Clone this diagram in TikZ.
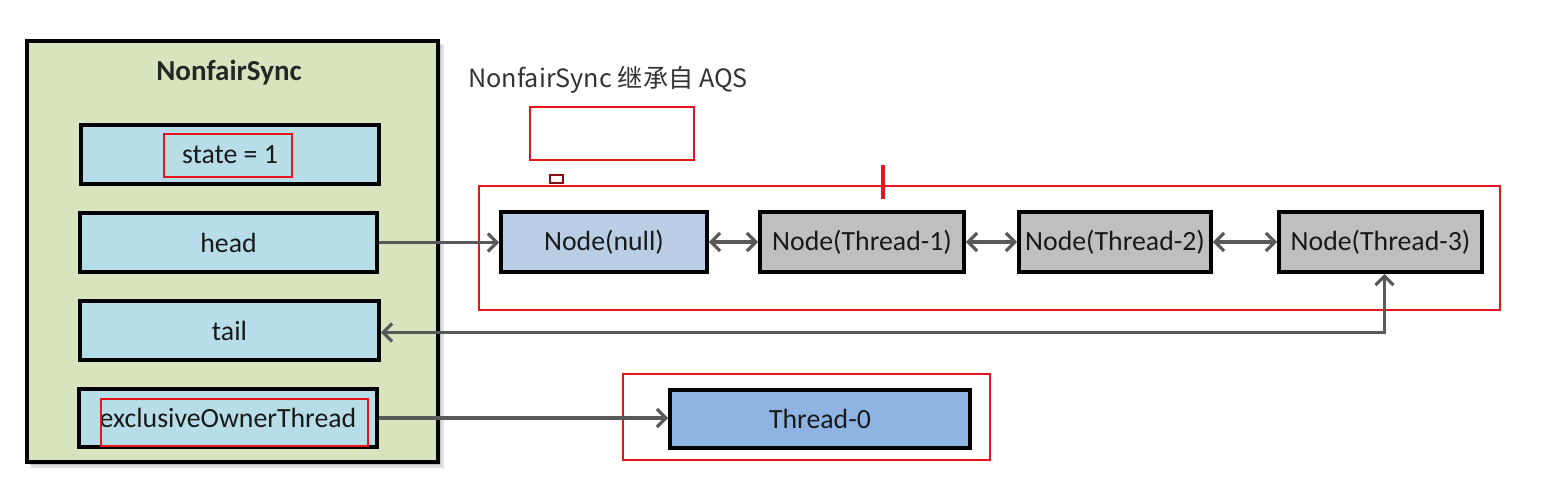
\documentclass[tikz,border=0pt]{standalone}
\usepackage{fontspec}
\setmainfont{Carlito}
\newfontfamily\cjk{Noto Sans CJK SC}
\usetikzlibrary{fit,arrows.meta}
\definecolor{syncgreen}{HTML}{D7E4BD}
\definecolor{fieldblue}{HTML}{B7DEE8}
\definecolor{nullblue}{HTML}{B9CDE5}
\definecolor{nodegray}{HTML}{BFBFBF}
\definecolor{threadblue}{HTML}{8EB4E3}
\definecolor{markred}{HTML}{E8141C}
\definecolor{arrowgray}{HTML}{595959}
\tikzset{
  box/.style={draw=black, line width=1.8pt, inner sep=0pt},
  boxtext/.style={font=\fontsize{13.9pt}{16pt}\selectfont, text=black!90},
  redbox/.style={draw=markred, line width=1.4pt, inner sep=0pt},
  conn/.style={draw=arrowgray, line width=1.6pt, -{Straight Barb[length=4.5pt,width=9pt]}},
  dconn/.style={draw=arrowgray, line width=1.6pt, {Straight Barb[length=4.5pt,width=9pt]}-{Straight Barb[length=4.5pt,width=9pt]}},
}
\begin{document}
\begin{tikzpicture}[x=0.5pt,y=-0.5pt]
\useasboundingbox (0,0) rectangle (1551,486);
\fill[white] (0,0) rectangle (1551,486);
% shadow
\fill[black!12] (31,45) rectangle (444,468);
\fill[black!25] (30,44) rectangle (441,465);
% outer NonfairSync box
\node[box, fill=syncgreen, fit={(27,41) (438,462)}] (sync) {};
\node[font=\fontsize{14.5pt}{17pt}\selectfont\bfseries, text=black!85] (synctitle) at (229,73) {NonfairSync};
% fields
\node[box, fill=fieldblue, fit={(81,125) (379,184)}, label={[boxtext]center:state = 1}] (state) {};
\node[box, fill=fieldblue, fit={(80,213) (377,272)}, label={[boxtext]center:head}] (head) {};
\node[box, fill=fieldblue, fit={(80,301) (379,360)}, label={[boxtext]center:tail}] (tail) {};
\node[box, fill=fieldblue, fit={(79,389) (377,447)}, label={[boxtext]center:exclusiveOwnerThread}] (owner) {};
% queue nodes
\node[box, fill=nullblue, fit={(501,212) (707,272)}, label={[boxtext]center:Node(null)}] (null) {};
\node[box, fill=nodegray, fit={(760,212) (964,272)}, label={[boxtext]center:Node(Thread-1)}] (t1) {};
\node[box, fill=nodegray, fit={(1019,212) (1211,272)}, label={[boxtext]center:Node(Thread-2)}] (t2) {};
\node[box, fill=nodegray, fit={(1279,212) (1482,272)}, label={[boxtext]center:Node(Thread-3)}] (t3) {};
\node[box, fill=threadblue, fit={(670,390) (970,448)}, label={[boxtext]center:Thread-0}] (t0) {};
% title text
\node[font=\cjk\fontsize{12.6pt}{16pt}\selectfont, text=black!80, anchor=west, inner sep=0pt] (aqs) at (468,80) {NonfairSync 继承自 AQS};
% red annotation marks
\node[redbox, fit={(164,134) (292,177)}] (statemark) {};
\node[redbox, fit={(101,399) (368,446)}] (ownermark) {};
\node[redbox, fit={(530,107) (694,160)}] (emptymark) {};
\node[redbox, fit={(479,186) (1500,310)}] (queuemark) {};
\node[redbox, fit={(623,374) (990,460)}] (threadmark) {};
\coordinate (ticktop) at (883,165);
\coordinate (tickbot) at (883,199);
\draw[markred, line width=1.7pt] (ticktop) -- (tickbot);
\node[draw=markred!60!black, line width=0.6pt, inner sep=0pt, fit={(550,175) (563,183)}] (tinymark) {};
% connectors
\draw[conn] (head.east) -- (head.east -| null.west);
\draw[dconn] (null.east) -- (t1.west);
\draw[dconn] (t1.east) -- (t2.west);
\draw[dconn] (t2.east) -- (t3.west);
\draw[dconn] ([xshift=2pt]t3.south) |- ([yshift=-1pt]tail.east);
\draw[conn] (owner.east) -- (owner.east -| t0.west);
\end{tikzpicture}
\end{document}
